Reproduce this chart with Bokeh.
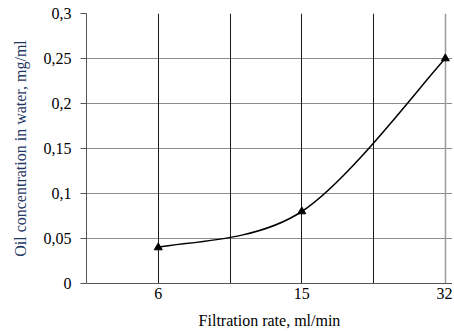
from bokeh.plotting import figure
from bokeh.models import FixedTicker, Range1d, Grid
from bokeh.embed import file_html
from bokeh.resources import INLINE

# Data
rates = ["6", "15", "32"]                 # filtration rate, ml/min (category labels)
concentration = [0.04, 0.08, 0.25]        # oil concentration, mg/ml
y_ticks = [0, 0.05, 0.1, 0.15, 0.2, 0.25, 0.3]
y_tick_labels = ["0", "0,05", "0,1", "0,15", "0,2", "0,25", "0,3"]

# category positions on the axis (every second grid slot)
xs = [2 * i + 1 for i in range(len(rates))]

FONT = "Liberation Serif"

p = figure(width=452, height=331, output_backend="svg", toolbar_location=None,
           x_range=Range1d(0, 5.1), y_range=Range1d(0, 0.3),
           min_border_left=86, min_border_top=13, min_border_bottom=47,
           min_border_right=0)
p.outline_line_color = None
p.background_fill_color = "white"

# grids
p.xgrid.visible = False
p.ygrid.ticker = FixedTicker(ticks=y_ticks)
p.ygrid.grid_line_color = "#8c8c8c"
p.ygrid.grid_line_width = 1
g1 = Grid(dimension=0, ticker=FixedTicker(ticks=[1, 2, 3, 4]),
          grid_line_color="#1a1a1a", grid_line_width=1)
g2 = Grid(dimension=0, ticker=FixedTicker(ticks=[5]),
          grid_line_color="#9a9a9a", grid_line_width=1.5)
p.add_layout(g1)
p.add_layout(g2)

# x axis
p.xaxis.ticker = FixedTicker(ticks=xs)
p.xaxis.major_label_overrides = {x: r for x, r in zip(xs, rates)}
p.xaxis.major_tick_out = 0
p.xaxis.major_tick_in = 0
p.xaxis.minor_tick_line_color = None
p.xaxis.major_label_standoff = 4
p.xaxis.axis_label = "Filtration rate, ml/min"
p.xaxis.axis_label_standoff = 10
p.xaxis.axis_line_color = "#555555"

# y axis
p.yaxis.ticker = FixedTicker(ticks=y_ticks)
p.yaxis.major_label_overrides = {t: l for t, l in zip(y_ticks, y_tick_labels)}
p.yaxis.major_tick_out = 6
p.yaxis.major_tick_in = 0
p.yaxis.major_tick_line_color = "#555555"
p.yaxis.minor_tick_line_color = None
p.yaxis.major_label_standoff = 9
p.yaxis.axis_label = "Oil concentration in water, mg/ml"
p.yaxis.axis_label_standoff = 12
p.yaxis.axis_line_color = "#555555"
p.yaxis.axis_label_text_color = "#1f3864"

for ax in (p.xaxis, p.yaxis):
    ax.major_label_text_font = FONT
    ax.major_label_text_font_size = "16px"
    ax.major_label_text_color = "black"
    ax.axis_label_text_font = FONT
    ax.axis_label_text_font_size = "16px"
    ax.axis_label_text_font_style = "normal"

p.xaxis.axis_label_text_color = "black"

# smoothed curve (Catmull-Rom style Bezier segments, as in spreadsheet smoothing)
n = len(xs)
x0, y0, x1, y1, cx0, cy0, cx1, cy1 = [], [], [], [], [], [], [], []
for i in range(n - 1):
    pm = (xs[max(i - 1, 0)], concentration[max(i - 1, 0)])
    pa = (xs[i], concentration[i])
    pb = (xs[i + 1], concentration[i + 1])
    pn = (xs[min(i + 2, n - 1)], concentration[min(i + 2, n - 1)])
    x0.append(pa[0]); y0.append(pa[1])
    x1.append(pb[0]); y1.append(pb[1])
    cx0.append(pa[0] + (pb[0] - pm[0]) / 6); cy0.append(pa[1] + (pb[1] - pm[1]) / 6)
    cx1.append(pb[0] - (pn[0] - pa[0]) / 6); cy1.append(pb[1] - (pn[1] - pa[1]) / 6)

p.bezier(x0=x0, y0=y0, x1=x1, y1=y1, cx0=cx0, cy0=cy0, cx1=cx1, cy1=cy1,
         line_color="black", line_width=1.5)
p.scatter(xs, concentration, marker="triangle", size=8,
          fill_color="black", line_color="black")

open("out.html", "w").write(file_html(p, INLINE))
